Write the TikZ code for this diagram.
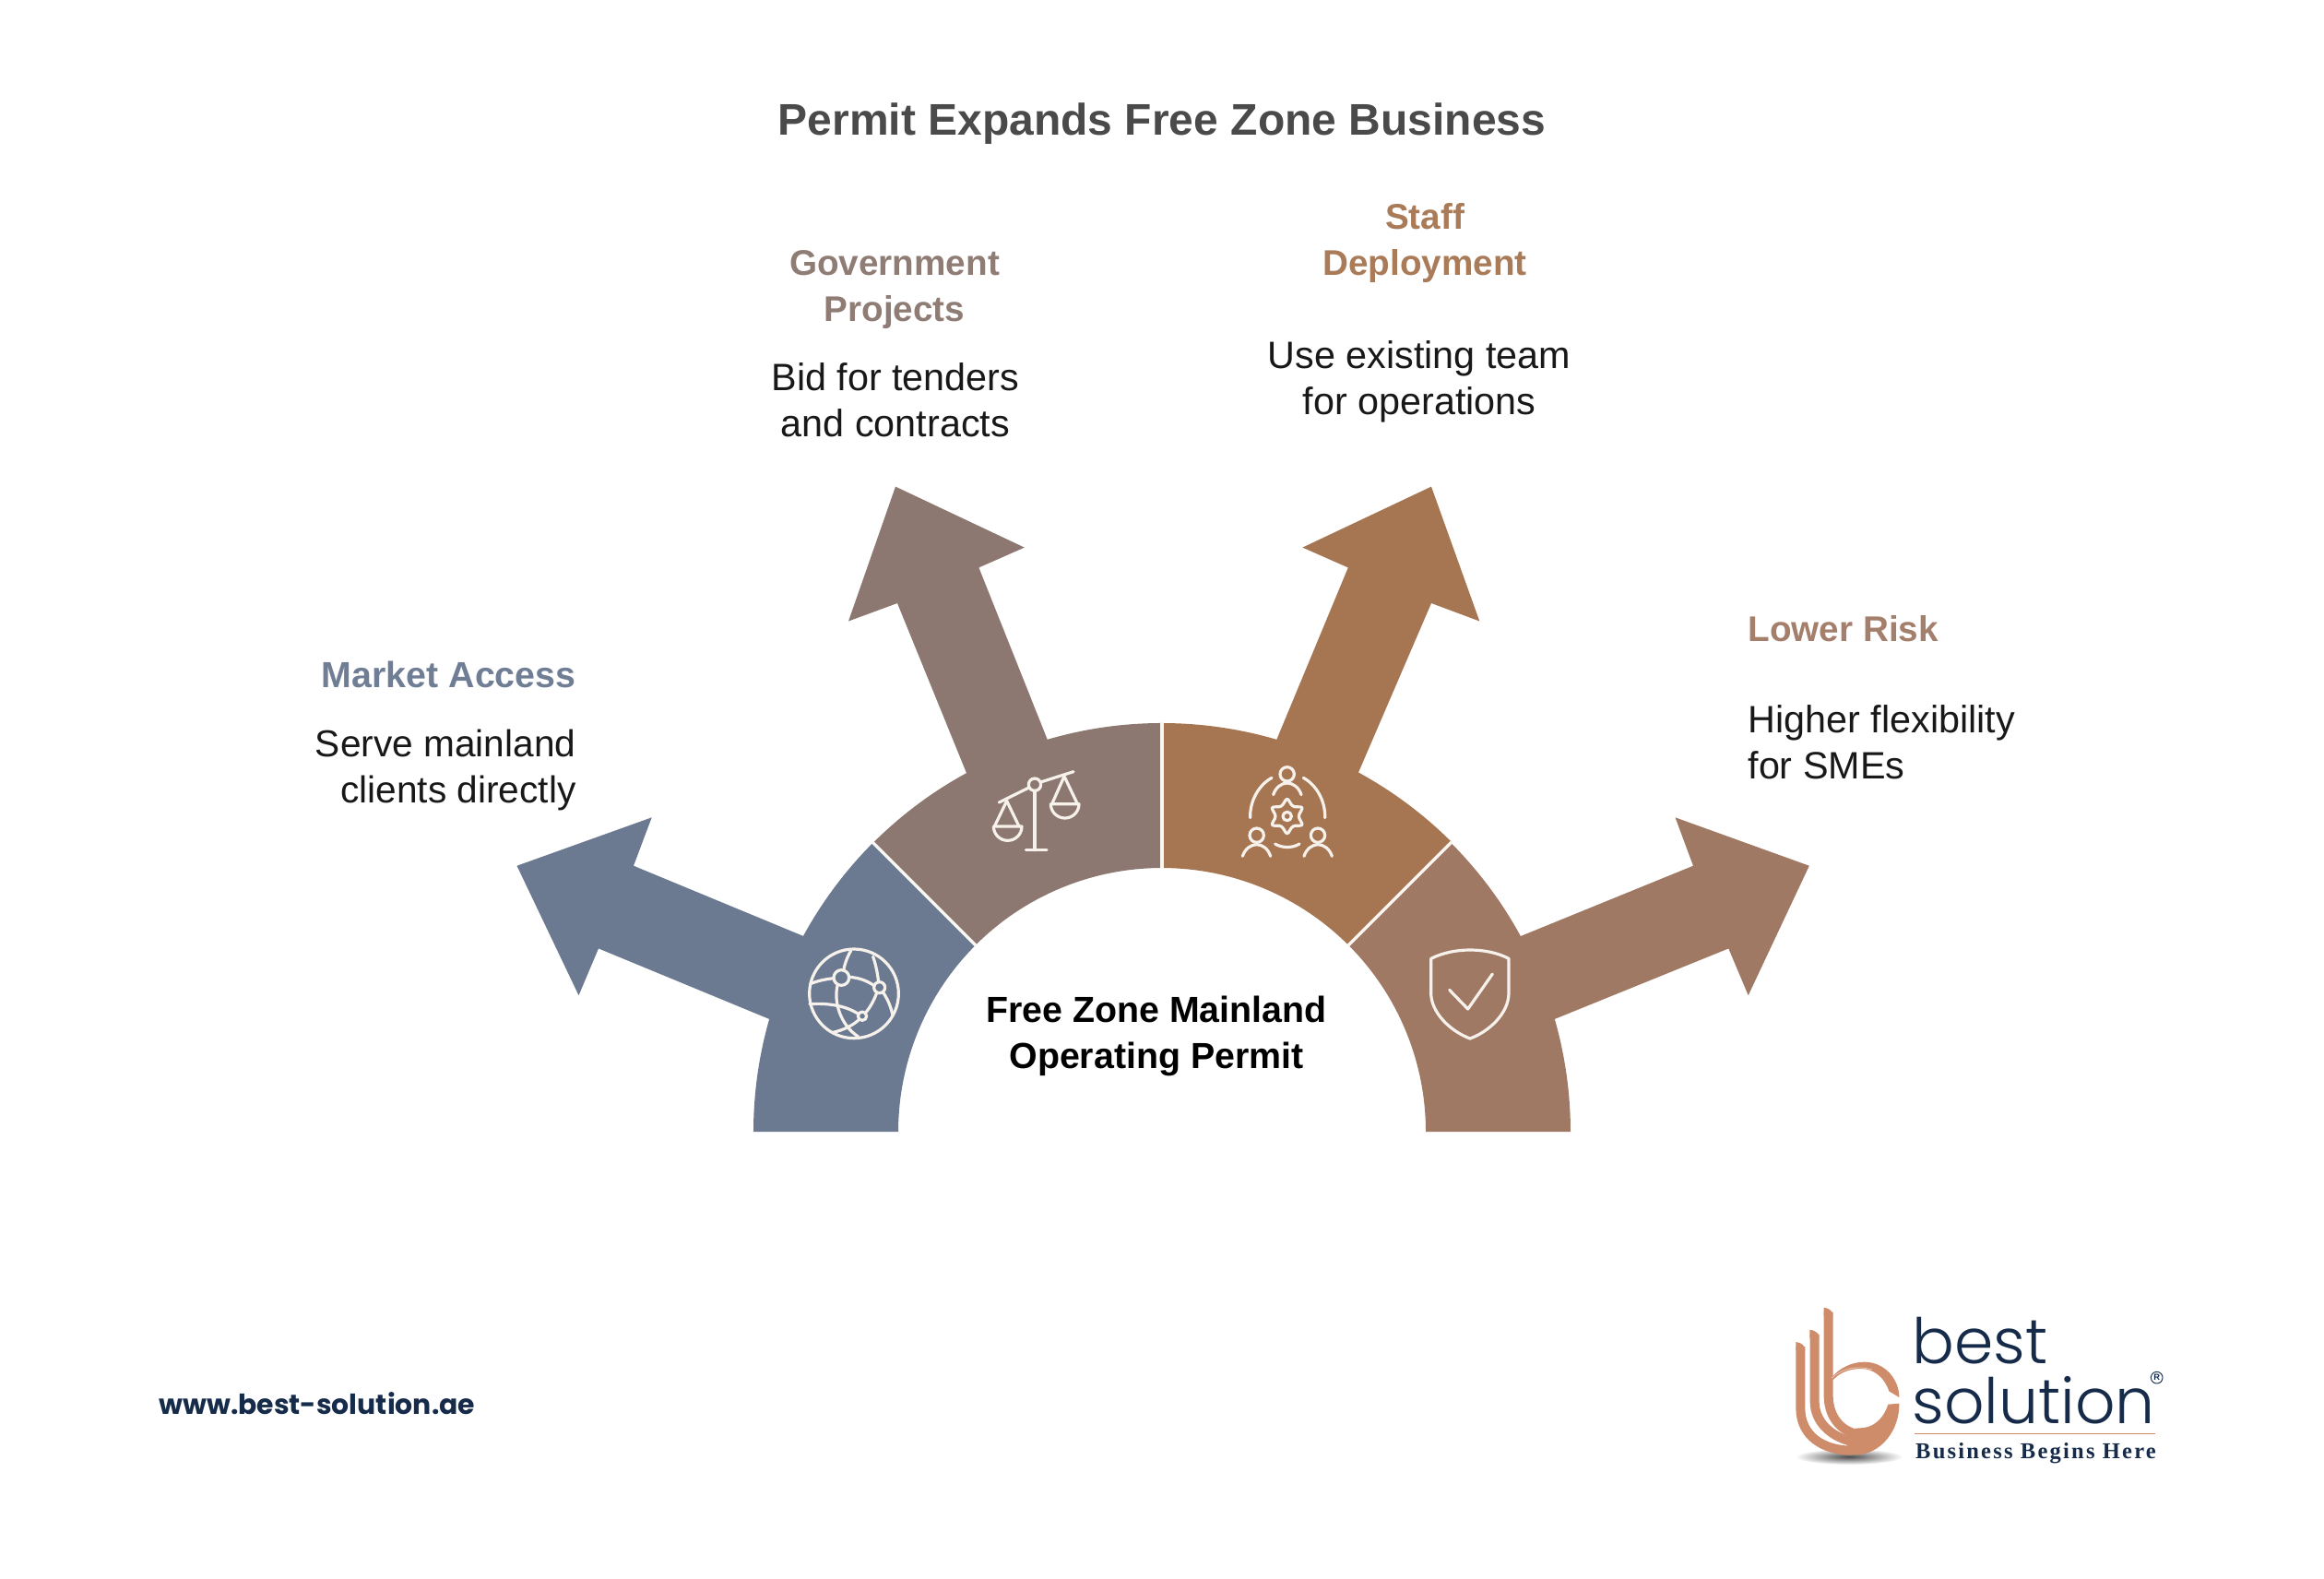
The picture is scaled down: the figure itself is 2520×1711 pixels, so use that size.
\documentclass[tikz,border=0pt]{standalone}
\usepackage{fontspec}
\setmainfont{Liberation Sans}
\newfontfamily\webfont{Poppins}
\newfontfamily\logofont{Poppins}[UprightFont=* Light]
\newfontfamily\tagfont{Liberation Serif}[LetterSpace=9]

\definecolor{slateblue}{RGB}{107,122,145}
\definecolor{taupe}{RGB}{140,120,112}
\definecolor{ochre}{RGB}{166,117,81}
\definecolor{clay}{RGB}{160,121,101}
\definecolor{copper}{RGB}{206,140,106}
\definecolor{navy}{RGB}{22,43,74}

\tikzset{every picture/.style={line width=0.75pt},
  titletext/.style={anchor=base,inner sep=0pt,font=\bfseries\fontsize{36}{36}\selectfont,color={rgb,255:red,74;green,74;blue,74}},
  headtext/.style={anchor=base,inner sep=0pt,align=center,font=\bfseries\fontsize{29}{37.3}\selectfont},
  bodytext/.style={anchor=base,inner sep=0pt,align=center,font=\fontsize{31}{37.3}\selectfont,color={rgb,255:red,24;green,24;blue,24}},
  iconline/.style={draw={rgb,255:red,247;green,241;blue,236},line width=2.4pt,line cap=round,line join=round},
  seam/.style={draw={rgb,255:red,250;green,246;blue,242},line width=2.6pt}}

\begin{document}
\begin{tikzpicture}[x=0.75pt,y=0.75pt,yscale=-1,xscale=1]
\useasboundingbox (0,0) rectangle (2520,1711);

%Left arrow
\fill [slateblue] (817,1227) arc[start angle=180,end angle=196,radius=443] -- (649,1028.4) -- (627.5,1079.2) -- (560.5,938.7) -- (706.7,886.3) -- (687,938.7) -- (871,1014.9) arc[start angle=208.6,end angle=225,radius=443] -- (1057.8,1024.8) arc[start angle=225,end angle=180,radius=286] -- cycle ;
%Upper left arrow
\fill [taupe] (946.8,913.8) arc[start angle=225,end angle=241.4,radius=443] -- (973,654) -- (920,673.5) -- (971,527.6) -- (1110.8,593.6) -- (1061.4,615.4) -- (1135.7,801.8) arc[start angle=253.7,end angle=270,radius=443] -- (1260,941) arc[start angle=270,end angle=225,radius=286] -- cycle ;
%Upper right arrow
\fill [ochre] (1260,784) arc[start angle=270,end angle=286.3,radius=443] -- (1461.8,615.4) -- (1412.4,593.6) -- (1552,527.6) -- (1604.3,673.5) -- (1552,654) -- (1473,837.5) arc[start angle=298.6,end angle=315,radius=443] -- (1462.2,1024.8) arc[start angle=315,end angle=270,radius=286] -- cycle ;
%Right arrow
\fill [clay] (1573.2,913.8) arc[start angle=315,end angle=331.4,radius=443] -- (1836,938.7) -- (1816.5,886.3) -- (1961.8,938.7) -- (1895.7,1079.2) -- (1874.3,1028.4) -- (1685.8,1104.9) arc[start angle=344,end angle=360,radius=443] -- (1546,1227) arc[start angle=360,end angle=315,radius=286] -- cycle ;
%Seams
\draw [seam] (946,913) -- (1058.5,1025.5) ;
\draw [seam] (1260,783) -- (1260,942) ;
\draw [seam] (1574,913) -- (1461.5,1025.5) ;

%Globe
\begin{scope}[shift={(840,800)},x=0.25pt,y=0.25pt]
\draw [iconline] (258,832) circle[radius=145] ;
\draw [iconline] (217,780) circle[radius=25] (341,812) circle[radius=18] (285,905) circle[radius=14] ;
\draw [iconline] (248,692) .. controls (235,715) and (228,735) .. (224,756) ;
\draw [iconline] (116,800) .. controls (140,790) and (165,785) .. (192,782) ;
\draw [iconline] (242,778) .. controls (275,780) and (300,790) .. (324,806) ;
\draw [iconline] (320,712) .. controls (330,740) and (335,770) .. (338,794) ;
\draw [iconline] (352,827) .. controls (368,850) and (378,875) .. (384,902) ;
\draw [iconline] (332,829) .. controls (325,850) and (312,875) .. (295,895) ;
\draw [iconline] (205,802) .. controls (190,860) and (215,935) .. (272,972) ;
\draw [iconline] (114,866) .. controls (170,862) and (230,870) .. (272,898) ;
\draw [iconline] (275,916) .. controls (255,935) and (225,950) .. (190,958) ;
\end{scope}

%Scales
\begin{scope}[shift={(1060,820)},x=0.25pt,y=0.25pt]
\draw [iconline] (70,150) -- (167,102) (205,84) -- (312,50) ;
\draw [iconline] (186,92) circle[radius=20] ;
\draw [iconline] (186,112) -- (186,305) (157,305) -- (225,305) ;
\draw [iconline] (55,228) -- (95,145) -- (135,228) ;
\draw [iconline] (52,228) -- (144,228) arc[start angle=0,end angle=180,radius=46] ;
\draw [iconline] (242,155) -- (282,65) -- (325,155) ;
\draw [iconline] (238,155) -- (330,155) arc[start angle=0,end angle=180,radius=46] ;
\end{scope}

%Team
\begin{scope}[shift={(1340,825)},x=0.25pt,y=0.25pt]
\draw [iconline] (167,43) circle[radius=23] (68,242) circle[radius=23] (267,242) circle[radius=23] ;
\draw [iconline] (122,110) .. controls (130,85) and (150,72) .. (167,72) .. controls (185,72) and (205,85) .. (213,110) ;
\draw [iconline] (22,310) .. controls (30,285) and (50,272) .. (68,272) .. controls (86,272) and (105,285) .. (113,310) ;
\draw [iconline] (222,310) .. controls (230,285) and (250,272) .. (267,272) .. controls (285,272) and (305,285) .. (313,310) ;
\draw [iconline] (47,185) .. controls (45,130) and (75,78) .. (117,55) ;
\draw [iconline] (220,55) .. controls (262,78) and (292,130) .. (290,185) ;
\draw [iconline] (128,270) .. controls (150,284) and (185,284) .. (207,270) ;
\draw [iconline] (167,180) circle[radius=14] ;
\draw [iconline,rounded corners=2pt,shift={(167,180)}] (270:60) \foreach \a in {330,30,90,150,210} { -- ({\a-30}:36) -- (\a:60) } -- (240:36) -- cycle ;
\end{scope}

%Shield
\begin{scope}[shift={(1300,800)},x=0.25pt,y=0.25pt]
\draw [iconline] (755,718) .. controls (795,698) and (840,690) .. (882,690) .. controls (925,690) and (970,698) .. (1008,718) -- (1008,830) .. controls (1008,895) and (945,955) .. (882,978) .. controls (820,955) and (755,895) .. (755,830) -- cycle ;
\draw [iconline] (815,820) -- (875,882) -- (955,768) ;
\end{scope}

% Text Node
\draw (1260,146) node (title) [titletext] {Permit Expands Free Zone Business};
% Text Node
\draw (970,348) node (govhead) [headtext,color={rgb,255:red,143;green,124;blue,116}] {Government\\Projects};
\draw (971,473.5) node (govbody) [bodytext] {Bid for tenders\\and contracts};
% Text Node
\draw (1545,298.5) node (staffhead) [headtext,color={rgb,255:red,169;green,123;blue,88}] {Staff\\Deployment};
\draw (1539,449) node (staffbody) [bodytext] {Use existing team\\for operations};
% Text Node
\draw (625,745) node (markethead) [headtext,anchor=base east,font=\bfseries\fontsize{29.5}{37.3}\selectfont,color={rgb,255:red,111;green,126;blue,149}] {Market Access};
\draw (625,870) node (marketbody) [bodytext,anchor=base east,align=right,font=\fontsize{30.5}{37.3}\selectfont] {Serve mainland\\clients directly};
% Text Node
\draw (1895,695) node (riskhead) [headtext,anchor=base west,color={rgb,255:red,164;green,127;blue,108}] {Lower Risk};
\draw (1895,844.5) node (riskbody) [bodytext,anchor=base west,align=left] {Higher flexibility\\for SMEs};
% Text Node
\draw (1254,1158) node (hubtext) [headtext,font=\bfseries\fontsize{29.5}{37.3}\selectfont,color=black] {Free Zone Mainland\\Operating Permit};
% Text Node
\draw (172,1533) node (weblink) [anchor=base west,inner sep=0pt,font=\webfont\bfseries\fontsize{22.4}{22.4}\selectfont,color=navy] {www.best-solution.ae};

%Logo
\begin{scope}[shift={(1900,1380)},x=0.25pt,y=0.25pt]
\shade [inner color=black!70,outer color=white] (315,598) ellipse[x radius=175,y radius=26] ;
\draw [copper,line width=7.5pt] (157,240) -- (157,440) .. controls (157,530) and (230,578) .. (325,578) ;
\draw [copper,line width=7.5pt] (203,200) -- (203,420) .. controls (203,480) and (250,530) .. (320,548) ;
\draw [copper,line width=7.5pt] (248,128) -- (248,400) .. controls (248,460) and (280,505) .. (325,520) ;
\fill [copper] (233,113) .. controls (250,115) and (263,125) .. (263,140) -- (233,140) -- cycle ;
\fill [copper] (187,185) .. controls (205,187) and (218,197) .. (218,212) -- (187,212) -- cycle ;
\fill [copper] (142,225) .. controls (160,227) and (172,237) .. (172,252) -- (142,252) -- cycle ;
\fill [copper] (255,345) .. controls (285,305) and (330,290) .. (365,290) .. controls (430,290) and (478,345) .. (478,405) -- (445,385) .. controls (430,340) and (395,312) .. (355,312) .. controls (315,312) and (285,325) .. (263,348) -- cycle ;
\fill [copper] (478,425) .. controls (480,510) and (420,592) .. (335,592) -- (305,590) -- (315,515) .. controls (330,505) and (340,505) .. (350,505) .. controls (390,505) and (425,480) .. (442,428) -- cycle ;
\draw [white,line width=0.5pt,opacity=0.6] (258,343) .. controls (290,312) and (340,300) .. (390,315) ;
\draw (519,295) node (logobest) [anchor=base west,inner sep=0pt,font=\logofont\fontsize{51}{51}\selectfont,color=navy] {best};
\draw (519,490) node (logosolution) [anchor=base west,inner sep=0pt,font=\logofont\fontsize{51}{51}\selectfont,color=navy] {solution};
\draw [copper,line width=1.2pt] (528,524) -- (1310,524) ;
\draw (530,603) node (logotag) [anchor=base west,inner sep=0pt,font=\tagfont\bfseries\fontsize{18.4}{18.4}\selectfont,color=navy] {Business Begins Here};
\draw [navy,line width=0.7pt] (1316,341) circle[radius=19] ;
\draw (1316,341) node (logomark) [inner sep=0pt,font=\bfseries\fontsize{7}{7}\selectfont,color=navy] {R};
\end{scope}
\end{tikzpicture}
\end{document}
